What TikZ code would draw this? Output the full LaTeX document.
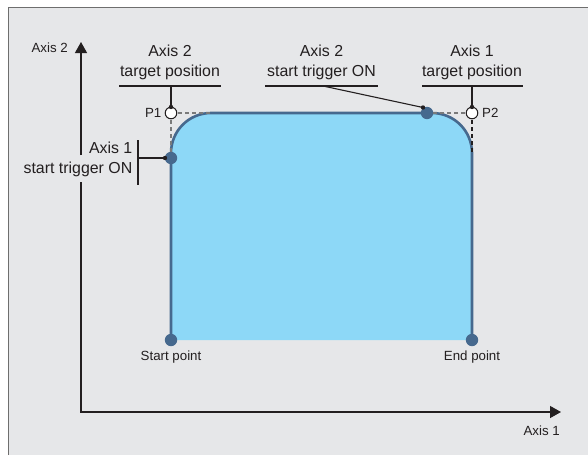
\documentclass[tikz,border=0pt]{standalone}
\usepackage{fontspec}
\setmainfont{Liberation Sans}
\usetikzlibrary{arrows.meta}
\definecolor{bg}{HTML}{E6E7E9}
\definecolor{framec}{HTML}{6E6E6E}
\definecolor{fillblue}{HTML}{8DD8F7}
\definecolor{edgeblue}{HTML}{46698E}
\definecolor{ink}{HTML}{231F20}
\definecolor{dashgray}{HTML}{7A7A7A}
\begin{document}
\begin{tikzpicture}[x=1pt,y=-1pt,
  axisline/.style={draw=ink, line width=1.3pt},
  biglabel/.style={text=ink, font=\fontsize{15.9}{20}\selectfont, align=center, inner sep=0pt},
  smalllabel/.style={text=ink, font=\fontsize{13.3}{15}\selectfont, inner sep=0pt},
  calloutline/.style={draw=ink, line width=1.1pt},
  dashline/.style={draw=dashgray, line width=1.1pt, dash pattern=on 4pt off 3pt},
  dashblack/.style={draw=ink, line width=1.1pt, dash pattern=on 4pt off 3pt},
  bluedot/.style={fill=edgeblue},
  target/.style={draw=ink, fill=white, line width=1pt},
  pin/.style={fill=ink}]
\useasboundingbox (0,0) rectangle (588,455);
\fill[white] (0,0) rectangle (588,455);
\fill[bg] (8.5,7.5) rectangle (588,455);
\draw[framec, line width=1.6pt] (8.5,455) -- (8.5,7.5) -- (588,7.5);

% points
\coordinate (O) at (81,412);
\coordinate (Ytip) at (81,42);
\coordinate (Xtip) at (561,412);
\coordinate (Ygaplow) at (81,182);
\coordinate (Ygaphigh) at (81,155);
\coordinate (Start) at (171,340);
\coordinate (End) at (472,340);
\coordinate (P1) at (171,113);
\coordinate (P2) at (472,113);
\coordinate (P1top) at (171,107);
\coordinate (P2top) at (472,107);
\coordinate (Trig1) at (171,158);
\coordinate (Trig1pin) at (165,158);
\coordinate (Trig2) at (427,113);
\coordinate (Trig2pin) at (423,107.5);
\coordinate (P1right) at (211,113);
\coordinate (P1down) at (171,153);
\coordinate (P2left) at (432,113);
\coordinate (P2down) at (472,153);

% axes
\draw[axisline, -{Triangle[length=11pt,width=12pt]}] (Ygaplow) -- (O) -- (Xtip);
\draw[axisline, -{Triangle[length=11pt,width=12pt]}] (Ygaphigh) -- (Ytip);
\node[smalllabel, anchor=east] (ax2) at (68,47.5) {Axis 2};
\node[smalllabel, anchor=east] (ax1) at (560,431) {Axis 1};

% travel path
\path[fill=fillblue, draw=edgeblue, line width=2.6pt, rounded corners=40pt]
  (Start) -- (P1) -- (P2) -- (End);

% dashed guides
\draw[dashline] (P1) -- (P1right);
\draw[dashline] (P1) -- (P1down);
\draw[dashline] (P2) -- (P2left);
\draw[dashblack] (P2) -- (P2down);

% labels top
\node[biglabel] (lblA) at (170,62) {Axis 2\\target position};
\node[biglabel] (lblB) at (321.5,62) {Axis 2\\start trigger ON};
\node[biglabel] (lblC) at (472,62) {Axis 1\\target position};
\coordinate (uAL) at (119,86); \coordinate (uAR) at (221,86); \coordinate (uAfoot) at (171,86);
\coordinate (uBL) at (265,86); \coordinate (uBR) at (378,86); \coordinate (uBfoot) at (323,86);
\coordinate (uCL) at (422,86); \coordinate (uCR) at (523,86); \coordinate (uCfoot) at (472,86);
\draw[calloutline] (uAL) -- (uAR);
\draw[calloutline] (uBL) -- (uBR);
\draw[calloutline] (uCL) -- (uCR);
\draw[calloutline] (uAfoot) -- (P1top);
\draw[calloutline] (uBfoot) -- (Trig2pin);
\draw[calloutline] (uCfoot) -- (P2top);

% left label
\node[biglabel, anchor=east, align=right] (lblD) at (132.5,159) {Axis 1\\start trigger ON};
\coordinate (barT) at (138,140); \coordinate (barB) at (138,185); \coordinate (barM) at (138,158);
\draw[calloutline] (barT) -- (barB);
\draw[calloutline] (barM) -- (Trig1pin);

% dots
\fill[bluedot] (Start) circle[radius=6.2pt];
\fill[bluedot] (End) circle[radius=6.2pt];
\fill[bluedot] (Trig1) circle[radius=6.2pt];
\fill[bluedot] (Trig2) circle[radius=6.2pt];
\draw[target] (P1) circle[radius=5.8pt];
\draw[target] (P2) circle[radius=5.8pt];
\fill[pin] (P1top) circle[radius=2.2pt];
\fill[pin] (P2top) circle[radius=2.2pt];
\fill[pin] (Trig1pin) circle[radius=2.2pt];
\fill[pin] (Trig2pin) circle[radius=2.2pt];

% point labels
\node[smalllabel, anchor=east] (lblP1) at (161.5,113) {P1};
\node[smalllabel, anchor=west] (lblP2) at (482,113) {P2};
\node[smalllabel] (lblStart) at (171,357.5) {Start point};
\node[smalllabel] (lblEnd) at (472,357.5) {End point};
\end{tikzpicture}
\end{document}
